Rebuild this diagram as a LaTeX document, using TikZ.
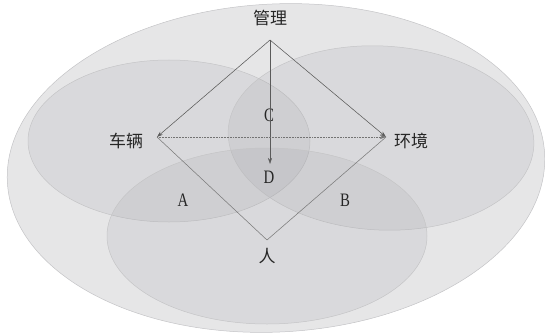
\documentclass[tikz,border=0pt]{standalone}
\usepackage{fontspec}
\usepackage{tikz}
\usetikzlibrary{arrows.meta}
\newfontfamily\cjk{Noto Sans CJK SC}
\newfontfamily\latn[FakeStretch=0.78]{Liberation Serif}
\definecolor{zonefill}{HTML}{9A9AA0}
\definecolor{zoneline}{HTML}{C4C4C6}
\definecolor{linkgray}{HTML}{5A5A5A}

\begin{document}
\begin{tikzpicture}[x=1pt,y=-1pt]

      \tikzset{zone/.style = {draw=zoneline,line width=0.5pt,fill=zonefill,fill opacity=0.16}}
      \tikzset{outer/.style = {zone,fill opacity=0.25}}
      \tikzset{label/.style = {font=\cjk\fontsize{17}{19}\selectfont,text=black!85}}
      \tikzset{part/.style = {font=\latn\fontsize{19}{21}\selectfont,text=black!85}}
      \tikzset{link/.style = {draw=linkgray,line width=0.55pt,> = {Stealth[length=6pt,width=4pt]}}}
      \useasboundingbox (0,0) rectangle (545,334);
      % zones
      \draw[outer,rotate around={3:(276,168)}] (276,168) ellipse [x radius=269pt,y radius=164pt];
      \draw[zone] (169,141) ellipse [x radius=141pt,y radius=81pt];
      \draw[zone,rotate around={-3:(381,138)}] (381,138) ellipse [x radius=153pt,y radius=92pt];
      \draw[zone] (267,236) ellipse [x radius=160pt,y radius=88pt];
      % vertices
      \coordinate (top)   at (270,40);
      \coordinate (left)  at (157,137);
      \coordinate (right) at (386,137);
      \coordinate (bot)   at (267,240);
      \coordinate (mid)   at (270,164);
      \node[label] (gl) at (270,18)  {管理};
      \node[label] (cl) at (126,141) {车辆};
      \node[label] (hj) at (411,141) {环境};
      \node[label] (rn) at (267,256) {人};
      \node[part]  (c)  at (269,115) {C};
      \node[part]  (d)  at (269,177) {D};
      \node[part]  (a)  at (183,200) {A};
      \node[part]  (b)  at (345,200) {B};
      %edges
      \draw[link,->] (top) -- (left);
      \draw[link,->] (top) -- (right);
      \draw[link,->] (top) -- (mid);
      \draw[link,->,densely dotted,draw=linkgray!85] (left) -- (right);
      \draw[link,draw=linkgray!80] (bot) -- (left);
      \draw[link,draw=linkgray!80] (bot) -- (right);
\end{tikzpicture}
\end{document}
